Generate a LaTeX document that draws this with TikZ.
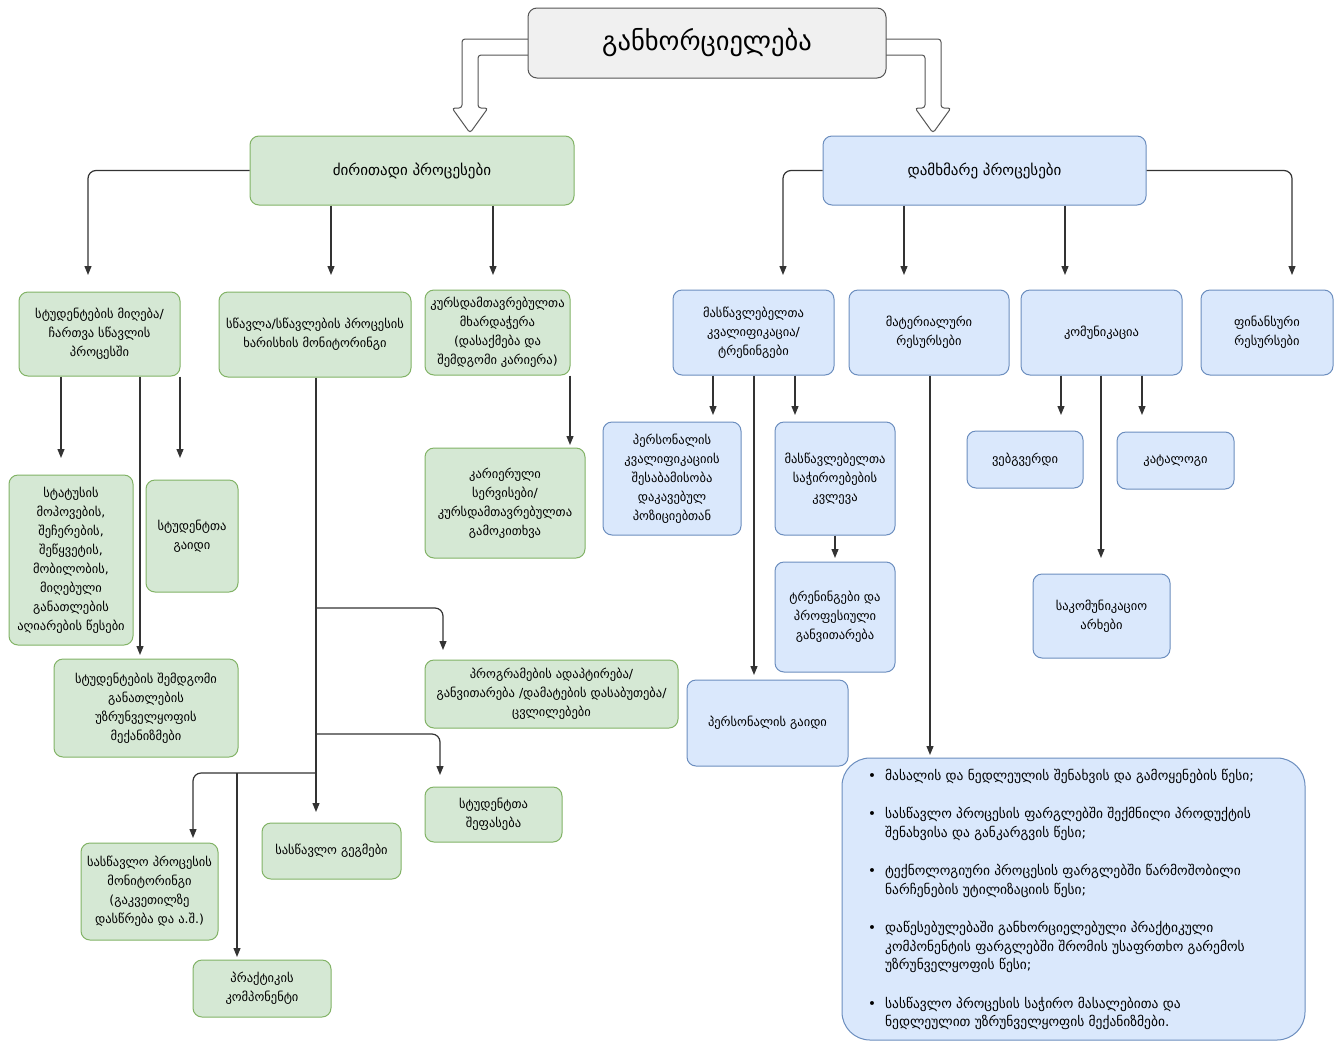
\documentclass[tikz,border=0pt]{standalone}
\usepackage{fontspec}
\setmainfont{DejaVu Sans}
\usetikzlibrary{arrows.meta}
\definecolor{gfill}{HTML}{D5E8D4}
\definecolor{gline}{HTML}{82B366}
\definecolor{bfill}{HTML}{DAE8FC}
\definecolor{bline}{HTML}{6C8EBF}
\definecolor{tfill}{HTML}{F0F0F0}
\definecolor{tline}{HTML}{555555}
\definecolor{cline}{HTML}{333333}
\begin{document}
\begin{tikzpicture}[x=1pt,y=-1pt,
 box/.style={rounded corners=9pt, line width=1pt, align=center, inner sep=2pt, font=\fontsize{12.5}{19}\selectfont},
 gbox/.style={box, fill=gfill, draw=gline},
 bbox/.style={box, fill=bfill, draw=bline},
 conn/.style={draw=cline, line width=1.2pt, -{Triangle[length=9pt,width=7pt]}, rounded corners=8pt},
 hollow/.style={draw=tline, fill=white, line width=1pt, rounded corners=3pt}]
\useasboundingbox (0,0) rectangle (1344,1042);
\fill[white] (0,0) rectangle (1344,1042);

% hollow block arrows from the title
\draw[hollow] (540,39) -- (462,39) -- (462,108) -- (452,108) -- (470,133) -- (488,108) -- (478,108) -- (478,55) -- (540,55);
\draw[hollow] (874,39) -- (941,39) -- (941,108) -- (951,108) -- (933,133) -- (915,108) -- (925,108) -- (925,55) -- (874,55);

\node[box, fill=tfill, draw=tline, minimum width=358pt, minimum height=70pt, font=\fontsize{26.5}{30}\selectfont] (title) at (707,43) {განხორციელება};

\node[gbox, minimum width=324pt, minimum height=69pt, font=\fontsize{15}{19}\selectfont] (gm) at (412,170.5) {ძირითადი პროცესები};
\node[bbox, minimum width=323pt, minimum height=69pt, font=\fontsize{15}{19}\selectfont] (bm) at (984.5,170.5) {დამხმარე პროცესები};

% level 2 green
\node[gbox, minimum width=161pt, minimum height=84pt] (g1) at (99.5,334) {სტუდენტების მიღება/\\ ჩართვა სწავლის\\ პროცესში};
\node[gbox, minimum width=192pt, minimum height=85pt] (g2) at (315,334.5) {სწავლა/სწავლების პროცესის\\ ხარისხის მონიტორინგი};
\node[gbox, minimum width=145pt, minimum height=85pt] (g3) at (497.5,332.5) {კურსდამთავრებულთა\\ მხარდაჭერა\\ (დასაქმება და\\ შემდგომი კარიერა)};

% level 2 blue
\node[bbox, minimum width=161pt, minimum height=85pt] (b1) at (753.5,332.5) {მასწავლებელთა\\ კვალიფიკაცია/\\ ტრენინგები};
\node[bbox, minimum width=160pt, minimum height=85pt] (b2) at (929,332.5) {მატერიალური\\ რესურსები};
\node[bbox, minimum width=161pt, minimum height=85pt] (b3) at (1101.5,332.5) {კომუნიკაცია};
\node[bbox, minimum width=132pt, minimum height=85pt] (b4) at (1267,332.5) {ფინანსური\\ რესურსები};

% green level 3
\node[gbox, minimum width=124pt, minimum height=170pt] (g1a) at (71,560) {სტატუსის\\ მოპოვების,\\ შეჩერების,\\ შეწყვეტის,\\ მობილობის,\\ მიღებული\\ განათლების\\ აღიარების წესები};
\node[gbox, minimum width=92pt, minimum height=112pt] (g1b) at (192,536) {სტუდენტთა\\ გაიდი};
\node[gbox, minimum width=184pt, minimum height=98pt] (g1c) at (146,708) {სტუდენტების შემდგომი\\ განათლების\\ უზრუნველყოფის\\ მექანიზმები};
\node[gbox, minimum width=160pt, minimum height=110pt] (g3a) at (505,503) {კარიერული\\ სერვისები/\\ კურსდამთავრებულთა\\ გამოკითხვა};
\node[gbox, minimum width=253pt, minimum height=68pt] (g2a) at (551.5,694) {პროგრამების ადაპტირება/\\ განვითარება /დამატების დასაბუთება/\\ ცვლილებები};
\node[gbox, minimum width=137pt, minimum height=55pt] (g2b) at (493.5,814.5) {სტუდენტთა\\ შეფასება};
\node[gbox, minimum width=139pt, minimum height=56pt] (g2c) at (331.5,851) {სასწავლო გეგმები};
\node[gbox, minimum width=137pt, minimum height=97pt] (g2d) at (149.5,891.5) {სასწავლო პროცესის\\ მონიტორინგი\\ (გაკვეთილზე\\ დასწრება და ა.შ.)};
\node[gbox, minimum width=138pt, minimum height=57pt] (g2e) at (262,988.5) {პრაქტიკის\\ კომპონენტი};

% blue level 3
\node[bbox, minimum width=138pt, minimum height=113pt] (b1a) at (672,478.5) {პერსონალის\\ კვალიფიკაციის\\ შესაბამისობა\\ დაკავებულ\\ პოზიციებთან};
\node[bbox, minimum width=120pt, minimum height=113pt] (b1b) at (835,478.5) {მასწავლებელთა\\ საჭიროებების\\ კვლევა};
\node[bbox, minimum width=120pt, minimum height=110pt] (b1c) at (835,617) {ტრენინგები და\\ პროფესიული\\ განვითარება};
\node[bbox, minimum width=161pt, minimum height=86pt] (b1d) at (767.5,723) {პერსონალის გაიდი};
\node[bbox, minimum width=116pt, minimum height=57pt] (b3a) at (1025,459.5) {ვებგვერდი};
\node[bbox, minimum width=117pt, minimum height=57pt] (b3b) at (1175.5,460.5) {კატალოგი};
\node[bbox, minimum width=137pt, minimum height=84pt] (b3c) at (1101.5,616) {საკომუნიკაციო\\ არხები};

% list box
\node[bbox, rounded corners=28pt, minimum width=463pt, minimum height=282pt] (lst) at (1073.5,899) {};
\node[anchor=north west, inner sep=0pt, font=\fontsize{13.5}{18.5}\selectfont] (lsttext) at (868,767) {%
\begin{tabular}{@{}l@{\hspace{9pt}}l@{}}
•& მასალის და ნედლეულის შენახვის და გამოყენების წესი;\\[20pt]
•& სასწავლო პროცესის ფარგლებში შექმნილი პროდუქტის\\
 & შენახვისა და განკარგვის წესი;\\[20pt]
•& ტექნოლოგიური პროცესის ფარგლებში წარმოშობილი\\
 & ნარჩენების უტილიზაციის წესი;\\[20pt]
•& დაწესებულებაში განხორციელებული პრაქტიკული\\
 & კომპონენტის ფარგლებში შრომის უსაფრთხო გარემოს\\
 & უზრუნველყოფის წესი;\\[20pt]
•& სასწავლო პროცესის საჭირო მასალებითა და\\
 & ნედლეულით უზრუნველყოფის მექანიზმები.
\end{tabular}};

% connector end points
\coordinate (e1) at (88,275);
\coordinate (e2) at (331,275);
\coordinate (e3) at (493,275);
\coordinate (e4) at (783,275);
\coordinate (e5) at (904,275);
\coordinate (e6) at (1065,275);
\coordinate (e7) at (1292,275);
\coordinate (e8) at (61,458);
\coordinate (e9) at (180,458);
\coordinate (e10) at (140,655);
\coordinate (e11) at (570,445);
\coordinate (e12) at (316,812);
\coordinate (j1) at (316,608);
\coordinate (e13) at (443,650);
\coordinate (j2) at (316,734);
\coordinate (e14) at (440,775);
\coordinate (j3) at (316,773);
\coordinate (e15) at (193,838);
\coordinate (j4) at (237,773);
\coordinate (e16) at (237,957);
\coordinate (e17) at (713,415);
\coordinate (e18) at (795,415);
\coordinate (e19) at (754,675);
\coordinate (e20) at (835,558);
\coordinate (e21) at (930,755);
\coordinate (e22) at (1061,415);
\coordinate (e23) at (1142,415);
\coordinate (e24) at (1101,558);

\draw[conn] (gm.west) -| (e1);
\draw[conn] (gm.south -| e2) -- (e2);
\draw[conn] (gm.south -| e3) -- (e3);
\draw[conn] (bm.west) -| (e4);
\draw[conn] (bm.south -| e5) -- (e5);
\draw[conn] (bm.south -| e6) -- (e6);
\draw[conn] (bm.east) -| (e7);

\draw[conn] (g1.south -| e8) -- (e8);
\draw[conn] (g1.south -| e9) -- (e9);
\draw[conn] (g1.south -| e10) -- (e10);
\draw[conn] (g3.south -| e11) -- (e11);
\draw[conn] (g2.south -| e12) -- (e12);
\draw[conn] (j1) -| (e13);
\draw[conn] (j2) -| (e14);
\draw[conn] (j3) -| (e15);
\draw[conn] (j4) -- (e16);

\draw[conn] (b1.south -| e17) -- (e17);
\draw[conn] (b1.south -| e18) -- (e18);
\draw[conn] (b1.south -| e19) -- (e19);
\draw[conn] (b1b.south) -- (e20);
\draw[conn] (b2.south -| e21) -- (e21);
\draw[conn] (b3.south -| e22) -- (e22);
\draw[conn] (b3.south -| e23) -- (e23);
\draw[conn] (b3.south -| e24) -- (e24);
\end{tikzpicture}
\end{document}
